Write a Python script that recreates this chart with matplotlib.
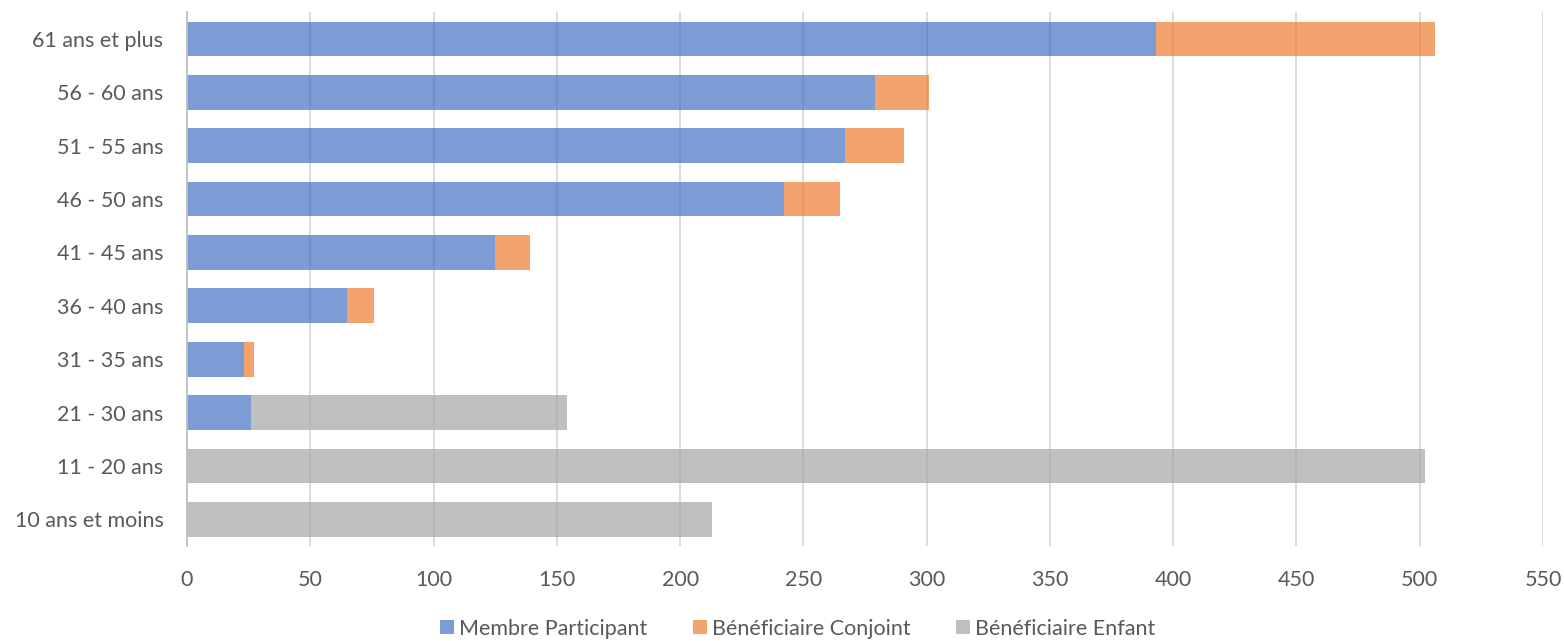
import numpy as np
import matplotlib
matplotlib.use("Agg")
from matplotlib import pyplot as plt

categories = ['10 ans et moins', '11 - 20 ans', '21 - 30 ans', '31 - 35 ans',
              '36 - 40 ans', '41 - 45 ans', '46 - 50 ans', '51 - 55 ans',
              '56 - 60 ans', '61 ans et plus']
membre = [0, 0, 26, 23, 65, 125, 242, 267, 279, 393]
conjoint = [0, 0, 0, 4, 11, 14, 23, 24, 22, 113]
enfant = [213, 502, 128, 0, 0, 0, 0, 0, 0, 0]
series_names = ['Membre Participant', 'Bénéficiaire Conjoint', 'Bénéficiaire Enfant']
xticks = list(range(0, 551, 50))

plt.rcParams['font.family'] = ['Lato', 'DejaVu Sans']

def main():
    fig = plt.figure(figsize=(15.64, 6.41), dpi=100)
    ax = fig.add_axes([0.1196, 0.148, 0.867, 0.833])

    y = np.arange(len(categories))
    m = np.array(membre)
    c = np.array(conjoint)
    e = np.array(enfant)
    h = 0.65
    ax.barh(y, m, height=h, color='#4472C4', alpha=0.7, label=series_names[0], zorder=2)
    ax.barh(y, c, left=m, height=h, color='#ED7D31', alpha=0.7, label=series_names[1], zorder=2)
    ax.barh(y, e, left=m + c, height=h, color='#A5A5A5', alpha=0.7, label=series_names[2], zorder=2)

    ax.set_xlim(0, 550)
    ax.set_ylim(-0.5, len(categories) - 0.5)
    ax.set_xticks(xticks)
    ax.set_yticks(y)
    ax.set_yticklabels(categories)
    ax.grid(axis='x', color='#D9D9D9', linewidth=1.3, zorder=0)
    ax.set_axisbelow(True)

    for s in ['top', 'right', 'bottom']:
        ax.spines[s].set_visible(False)
    ax.spines['left'].set_color('#BFBFBF')
    ax.spines['left'].set_linewidth(1.3)
    ax.tick_params(axis='both', length=0, labelsize=15.5, labelcolor='#595959')
    ax.tick_params(axis='y', pad=17)
    ax.tick_params(axis='x', pad=17)

    leg = fig.legend(loc='center', bbox_to_anchor=(0.51, 0.019), ncol=3,
                     frameon=False, fontsize=15.5, handlelength=0.65, handleheight=0.65,
                     handletextpad=0.25, columnspacing=2.1)
    for t in leg.get_texts():
        t.set_color('#595959')

    fig.savefig('out.png', dpi=100)


if __name__ == '__main__':
    main()
